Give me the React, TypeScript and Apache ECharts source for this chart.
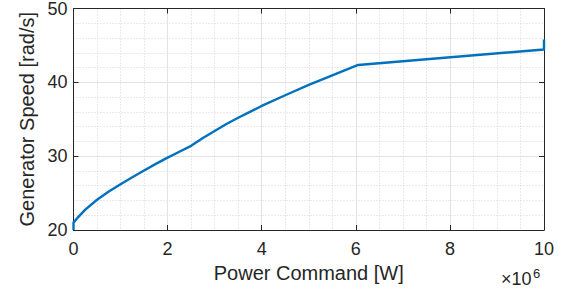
import React, { useEffect, useRef } from "react";
import * as echarts from "echarts";

const powerMW = [0, 0, 0.1, 0.25, 0.5, 0.75, 1.0, 1.25, 1.5, 1.75, 2.0, 2.25, 2.5, 2.75, 3.0, 3.25, 3.5, 3.75, 4.0, 4.5, 5.0, 5.5, 6.05, 10, 10];
const speed = [20, 21.0, 21.75, 22.75, 24.1, 25.2, 26.2, 27.15, 28.05, 28.95, 29.8, 30.6, 31.4, 32.45, 33.4, 34.35, 35.2, 36.0, 36.8, 38.25, 39.65, 40.95, 42.35, 44.45, 45.8];
const xTicks = [0, 2, 4, 6, 8, 10];
const yTicks = [20, 30, 40, 50];
const exponentBase = "×10";
const exponent = "6";

const TEXT = "#262626";
const FONT = "Liberation Sans, Arial, Helvetica, sans-serif";

export default function App() {
  const ref = useRef<HTMLDivElement>(null);
  useEffect(() => {
    if (!ref.current) return;
    const chart = echarts.init(ref.current, null, { renderer: "svg" });
    const data = powerMW.map((p, i) => [p * 1e6, speed[i]]);
    const boxAxisX = {
      type: "value",
      min: xTicks[0] * 1e6,
      max: xTicks[xTicks.length - 1] * 1e6,
      interval: 2e6,
    };
    const boxAxisY = {
      type: "value",
      min: yTicks[0],
      max: yTicks[yTicks.length - 1],
      interval: 10,
    };
    chart.setOption({
      animation: false,
      grid: { left: 73.5, right: 23, top: 8.5, bottom: 59, outerBoundsMode: "none", containLabel: false },
      xAxis: [
        {
          ...boxAxisX,
          position: "bottom",
          name: "Power Command [W]",
          nameLocation: "middle",
          nameGap: 32,
          nameTextStyle: { color: TEXT, fontSize: 20, fontFamily: FONT },
          axisLine: { show: true, onZero: false, lineStyle: { color: TEXT, width: 1 } },
          axisTick: { show: true, inside: true, length: 5, lineStyle: { color: TEXT } },
          axisLabel: {
            color: TEXT,
            fontSize: 18,
            fontFamily: FONT,
            margin: 10,
            formatter: (v: number) => String(Math.round(v / 1e6)),
          },
          splitLine: { show: true, lineStyle: { color: "#e3e3e3", width: 1 } },
          minorTick: { show: false, splitNumber: 4 },
          minorSplitLine: { show: true, lineStyle: { color: "#d4d4d4", width: 1, type: [1, 2] } },
        },
        {
          ...boxAxisX,
          position: "top",
          axisLine: { show: true, onZero: false, lineStyle: { color: TEXT, width: 1 } },
          axisTick: { show: true, inside: true, length: 5, lineStyle: { color: TEXT } },
          axisLabel: { show: false },
          splitLine: { show: false },
        },
      ],
      yAxis: [
        {
          ...boxAxisY,
          position: "left",
          name: "Generator Speed [rad/s]",
          nameLocation: "middle",
          nameGap: 37,
          nameTextStyle: { color: TEXT, fontSize: 20, fontFamily: FONT },
          axisLine: { show: true, onZero: false, lineStyle: { color: TEXT, width: 1 } },
          axisTick: { show: true, inside: true, length: 5, lineStyle: { color: TEXT } },
          axisLabel: { color: TEXT, fontSize: 18, fontFamily: FONT, margin: 6, lineHeight: 14 },
          splitLine: { show: true, lineStyle: { color: "#e3e3e3", width: 1 } },
          minorTick: { show: false, splitNumber: 5 },
          minorSplitLine: { show: true, lineStyle: { color: "#d4d4d4", width: 1, type: [1, 2] } },
        },
        {
          ...boxAxisY,
          position: "right",
          axisLine: { show: true, onZero: false, lineStyle: { color: TEXT, width: 1 } },
          axisTick: { show: true, inside: true, length: 5, lineStyle: { color: TEXT } },
          axisLabel: { show: false },
          splitLine: { show: false },
        },
      ],
      series: [
        {
          type: "line",
          data,
          xAxisIndex: 0,
          yAxisIndex: 0,
          showSymbol: false,
          symbol: "none",
          lineStyle: { color: "#0072BD", width: 2.4 },
          z: 5,
        },
      ],
      graphic: [
        {
          type: "text",
          x: 501,
          y: 279,
          z: 10,
          style: {
            text: exponentBase,
            fontSize: 18,
            fontFamily: FONT,
            fill: TEXT,
            verticalAlign: "middle",
          },
        },
        {
          type: "text",
          x: 533,
          y: 273.5,
          z: 10,
          style: {
            text: exponent,
            fontSize: 13,
            fontFamily: FONT,
            fill: TEXT,
            verticalAlign: "middle",
          },
        },
      ],
    });
    return () => chart.dispose();
  }, []);
  return (
    <div
      ref={ref}
      style={{ position: "fixed", left: 0, top: 0, width: 567, height: 289, background: "#fff" }}
    />
  );
}
